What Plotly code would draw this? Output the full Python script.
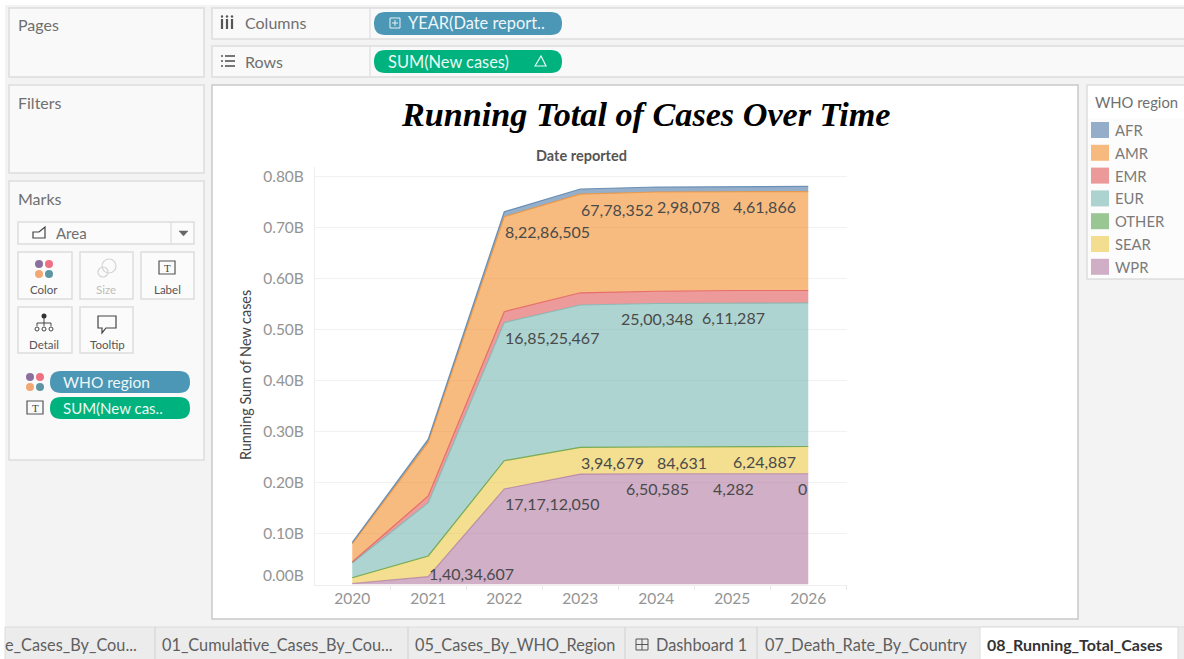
import plotly.graph_objects as go

W, H = 1184, 659

# ---------- data (billions of cases, running sum per region) ----------
years = [2020, 2021, 2022, 2023, 2024, 2025, 2026]
regions = ["WPR", "SEAR", "OTHER", "EUR", "EMR", "AMR", "AFR"]
wpr = [0.0020, 0.0153, 0.1873, 0.2165, 0.2172, 0.2172, 0.2172]
sear = [0.0113, 0.0406, 0.0554, 0.0525, 0.0524, 0.0534, 0.0534]
other = [0.000001, 0.000001, 0.000001, 0.000001, 0.000001, 0.000001, 0.000001]
eur = [0.0289, 0.1045, 0.2708, 0.2790, 0.2814, 0.2814, 0.2814]
emr = [0.0019, 0.0131, 0.0215, 0.0240, 0.0240, 0.0245, 0.0245]
amr = [0.0353, 0.1055, 0.1860, 0.1935, 0.1946, 0.1940, 0.1940]
afr = [0.0030, 0.0060, 0.0100, 0.0100, 0.0098, 0.0100, 0.0100]
values = dict(WPR=wpr, SEAR=sear, OTHER=other, EUR=eur, EMR=emr, AMR=amr, AFR=afr)

fill_colors = dict(AFR="#4e79a7", AMR="#f28e2b", EMR="#e15759", EUR="#76b7b2",
                   OTHER="#59a14f", SEAR="#edc948", WPR="#b07aa1")
legend_order = ["AFR", "AMR", "EMR", "EUR", "OTHER", "SEAR", "WPR"]

y_tick_vals = [0.1, 0.2, 0.3, 0.4, 0.5, 0.6, 0.7, 0.8]
y_tick_text = ["0.10B", "0.20B", "0.30B", "0.40B", "0.50B", "0.60B", "0.70B", "0.80B"]

# region, year, label text, anchor
mark_labels = [
    ("WPR", 2021, "1,40,34,607", "left"),
    ("WPR", 2022, "17,17,12,050", "left"),
    ("WPR", 2024, "6,50,585", "center"),
    ("WPR", 2025, "4,282", "center"),
    ("WPR", 2026, "0", "right"),
    ("SEAR", 2023, "3,94,679", "left"),
    ("SEAR", 2024, "84,631", "left"),
    ("SEAR", 2025, "6,24,887", "left"),
    ("EUR", 2022, "16,85,25,467", "left"),
    ("EUR", 2024, "25,00,348", "center"),
    ("EUR", 2025, "6,11,287", "center"),
    ("AMR", 2022, "8,22,86,505", "left"),
    ("AMR", 2023, "67,78,352", "left"),
    ("AMR", 2024, "2,98,078", "left"),
    ("AMR", 2025, "4,61,866", "left"),
]

tab_names = ["e_Cases_By_Cou...", "01_Cumulative_Cases_By_Cou...", "05_Cases_By_WHO_Region",
             "Dashboard 1", "07_Death_Rate_By_Country", "08_Running_Total_Cases"]

# ---------- helpers ----------
FONT = "Lato"
GREY = "#6f6f6f"
PAGE = "#f3f3f3"
PANEL = "#f9f9f9"
EDGE = "#dddddd"


def px(x):
    return x / W


def py(y):
    return 1 - y / H


shapes, annos = [], []


def rgba(hexc, a):
    return f"rgba({int(hexc[1:3], 16)},{int(hexc[3:5], 16)},{int(hexc[5:7], 16)},{a})"


def rect(x0, y0, x1, y1, fill=PANEL, line=EDGE, lw=1.5):
    shapes.append(dict(type="rect", xref="paper", yref="paper", x0=px(x0), x1=px(x1),
                       y0=py(y0), y1=py(y1), fillcolor=fill, layer="below",
                       line=dict(color=line, width=lw)))


def path(points, fill="rgba(0,0,0,0)", line="#555555", lw=1.2, close=False):
    d = "M" + " L".join(f"{px(a):.5f},{py(b):.5f}" for a, b in points) + (" Z" if close else "")
    shapes.append(dict(type="path", xref="paper", yref="paper", path=d, fillcolor=fill,
                       layer="below", line=dict(color=line, width=lw)))


def dot(cx, cy, r, fill, line="rgba(0,0,0,0)", lw=0):
    shapes.append(dict(type="circle", xref="paper", yref="paper", x0=px(cx - r), x1=px(cx + r),
                       y0=py(cy - r), y1=py(cy + r), fillcolor=fill, layer="below",
                       line=dict(color=line, width=lw)))


def pill(x0, y0, x1, y1, fill):
    r = (y1 - y0) / 2
    x_a, x_b = px(x0 + r), px(x1 - r)
    rx, ry = r / W, r / H
    t, b = py(y0), py(y1)
    m = (t + b) / 2
    d = (f"M{x_a},{t} L{x_b},{t} Q{x_b + rx},{t} {x_b + rx},{m} Q{x_b + rx},{b} {x_b},{b} "
         f"L{x_a},{b} Q{x_a - rx},{b} {x_a - rx},{m} Q{x_a - rx},{t} {x_a},{t} Z")
    shapes.append(dict(type="path", xref="paper", yref="paper", path=d, fillcolor=fill,
                       layer="below", line=dict(width=0)))


def text(x, y, s, size=14, color=GREY, anchor="left", family=FONT, angle=0):
    nudge = -2 if anchor == "left" else 0
    annos.append(dict(xref="paper", yref="paper", x=px(x + nudge), y=py(y), text=s, showarrow=False,
                      xanchor=anchor, yanchor="middle", textangle=angle,
                      font=dict(family=family, size=size, color=color)))


def t_icon(x0, y0, x1, y1):
    rect(x0, y0, x1, y1, fill="rgba(0,0,0,0)", line="#555555", lw=1.2)
    text((x0 + x1) / 2, (y0 + y1) / 2, "T", 11, "#444444", "center", "Liberation Serif")


def four_dots(cx, cy):
    dot(cx - 5, cy - 5, 4, "#8b6f9e")
    dot(cx + 5, cy - 5, 4, "#ef7082")
    dot(cx - 5, cy + 5, 4, "#f3a873")
    dot(cx + 5, cy + 5, 4, "#5e95a3")


# ---------- page furniture ----------
rect(5, 5, W + 4, H + 4, fill=PAGE, line=PAGE, lw=0)
rect(9, 8, 204, 77)
rect(9, 85, 204, 173)
rect(9, 181, 204, 460)
rect(212, 8, W + 4, 39)
rect(212, 46, W + 4, 77)
path([(370, 8), (370, 39)], line=EDGE)
path([(370, 46), (370, 77)], line=EDGE)
rect(212, 85, 1078, 619, fill="#ffffff", line="#c9c9c9", lw=1.5)
rect(1087, 85, W + 4, 279, fill="#fcfcfc")
rect(1088, 86, W + 4, 118, fill="#ffffff", line="#ffffff", lw=0)

text(18, 25, "Pages", 16)
text(18, 102, "Filters", 16)
text(18, 198, "Marks", 16)
text(245, 23, "Columns", 16)
text(245, 61, "Rows", 16)
for xx in (222, 227, 232):
    path([(xx, 19), (xx, 29)], line="#555555", lw=2.2)
    dot(xx, 16.5, 1.2, "#555555")
for yy in (56, 61, 66):
    path([(225, yy), (235, yy)], line="#555555", lw=1.6)
    dot(222, yy, 1, "#555555")

pill(374, 12, 562, 35, "#4b97b5")
rect(390, 18, 400, 28, fill="rgba(0,0,0,0)", line="#e6f1f5", lw=1)
path([(395, 20), (395, 26)], line="#e6f1f5", lw=1)
path([(392, 23), (398, 23)], line="#e6f1f5", lw=1)
text(408, 23, "YEAR(Date report..", 16.4, "#eef6f9")
pill(374, 50, 562, 73, "#00b27e")
text(388, 61, "SUM(New cases)", 16.4, "#eafaf4")
path([(535, 66), (541, 56), (546, 66)], line="#eafaf4", lw=1.2, close=True)

# marks card
rect(18, 222, 194, 244, fill="#fbfbfb")
path([(171, 222), (171, 244)], line=EDGE)
path([(33, 238), (33, 232), (39, 232), (45, 227), (45, 238)], line="#444444", close=True)
text(56, 233, "Area", 15)
path([(179, 231), (188, 231), (183.5, 236)], fill="#666666", line="#666666", lw=0.5, close=True)
for x0, y0, x1, y1 in [(18, 252, 72, 299), (80, 252, 133, 299), (141, 252, 194, 299),
                       (18, 307, 72, 353), (80, 307, 133, 353)]:
    rect(x0, y0, x1, y1, fill="#fbfbfb")
four_dots(44, 269)
text(44, 290, "Color", 11.5, "#555555", "center")
dot(109, 266, 7, "rgba(0,0,0,0)", "#d3d3d3", 1.2)
dot(103, 272, 5, "rgba(0,0,0,0)", "#d3d3d3", 1.2)
text(106, 290, "Size", 11.5, "#bdbdbd", "center")
t_icon(159, 261, 175, 274)
text(167, 290, "Label", 11.5, "#555555", "center")
dot(44, 316, 2.5, "#333333")
path([(44, 318), (44, 323)], line="#444444", lw=1)
path([(37, 326), (37, 323), (51, 323), (51, 326)], line="#444444", lw=1)
path([(44, 323), (44, 326)], line="#444444", lw=1)
for xx in (37, 44, 51):
    dot(xx, 329, 2, "rgba(0,0,0,0)", "#444444", 1)
text(44, 344, "Detail", 11.5, "#555555", "center")
path([(98, 316), (116, 316), (116, 328), (106, 328), (102, 333), (102, 328), (98, 328)],
     line="#444444", lw=1.2, close=True)
text(107, 344, "Tooltip", 11.5, "#555555", "center")
four_dots(35, 382)
pill(50, 371, 190, 393, "#4b97b5")
text(63, 382, "WHO region", 15.5, "#eef6f9")
t_icon(27, 401, 43, 414)
pill(50, 397, 190, 419, "#00b27e")
text(63, 408, "SUM(New cas..", 15, "#eafaf4")

# legend
text(1095, 102, "WHO region", 14.8, GREY)
for i, name in enumerate(legend_order):
    yc = 130 + i * 22.8
    c = fill_colors[name]
    rect(1091, yc - 8, 1109, yc + 8, fill=rgba(c, 0.6), line=rgba(c, 0.6), lw=0)
    text(1115, yc, name, 14.8, "#7a7a7a")

# tabs
rect(5, 627, W + 4, H + 4, fill="#ececec", line="#dcdcdc", lw=1)
rect(980, 627, 1178, H + 4, fill="#ffffff", line="#dcdcdc", lw=1)
for xx in (155, 408, 625, 757):
    path([(xx, 627), (xx, 659)], line="#d0d0d0", lw=1)
tab_x = [5, 162, 415, 656, 765, 987]
for i, (xx, name) in enumerate(zip(tab_x, tab_names)):
    last = i == len(tab_names) - 1
    s = f"<b>{name}</b>" if last else name
    text(xx, 644, s, 16 if last else 16.3, "#333333" if last else "#5f5f5f")
rect(636, 639, 648, 650, fill="rgba(0,0,0,0)", line="#555555", lw=1)
path([(642, 639), (642, 650)], line="#555555", lw=1)
path([(636, 644.5), (648, 644.5)], line="#555555", lw=1)

# chart texts
text(646, 114, "<b><i>Running Total of Cases Over Time</i></b>", 34.2, "#000000", "center", "Liberation Serif")
text(581, 156, "<b>Date reported</b>", 14.5, "#555555", "center")
text(245, 375, "Running Sum of New cases", 14.4, "#444444", "center", angle=-90)

# ---------- marks ----------
fig = go.Figure()
running = {}
total = [0.0] * len(years)
for name in regions:
    total = [a + b for a, b in zip(total, values[name])]
    running[name] = total
    c = fill_colors[name]
    fig.add_trace(go.Scatter(x=years, y=values[name], name=name, stackgroup="one", mode="lines",
                             line=dict(color=rgba(c, 0.75), width=1.2, shape="linear"),
                             fillcolor=rgba(c, 0.6), showlegend=False))

for region, year, label, anchor in mark_labels:
    low_band = running[region][years.index(year)] < 0.05
    nudge = {"left": -1, "center": 1, "right": 1}[anchor]
    annos.append(dict(xref="x", yref="y", x=year, y=running[region][years.index(year)],
                      yshift=3 if low_band else -15, xshift=nudge, text=label, showarrow=False,
                      xanchor=anchor, yanchor="middle",
                      font=dict(family=FONT, size=16, color="#4a4a4a")))

annos.append(dict(xref="paper", yref="y", x=px(306), y=0, yshift=10, text="0.00B", showarrow=False,
                  xanchor="right", yanchor="middle", font=dict(family=FONT, size=15.5, color="#949494")))

fig.update_layout(
    width=W, height=H, margin=dict(l=0, r=0, t=0, b=0), autosize=False,
    paper_bgcolor="#ffffff", plot_bgcolor="rgba(0,0,0,0)",
    shapes=shapes, annotations=annos, showlegend=False, hovermode=False,
    xaxis=dict(domain=[px(315), px(847)], range=[2019.51, 2026.51], tickvals=years,
               ticktext=[str(y) for y in years], showgrid=False, zeroline=False,
               showline=True, linecolor="#eeeeee", linewidth=1,
               ticks="", ticklen=0,
               minor=dict(tickvals=[2019.5 + i for i in range(8)], ticks="outside",
                          ticklen=4, tickcolor="#e8e8e8"),
               tickfont=dict(family=FONT, size=15.5, color="#949494")),
    yaxis=dict(domain=[py(584.5), py(167)], range=[0, (584.5 - 167) / 510],
               tickvals=y_tick_vals, ticktext=y_tick_text, showgrid=True, gridcolor="#f1f1f1",
               zeroline=False, showline=True, linecolor="#eeeeee", linewidth=1,
               ticks="outside", ticklen=7, tickcolor="rgba(0,0,0,0)",
               tickfont=dict(family=FONT, size=15.5, color="#949494")),
)

fig.write_html("out.html", config=dict(displayModeBar=False),
               post_script="document.body.style.margin='0';document.body.style.overflow='hidden';")
